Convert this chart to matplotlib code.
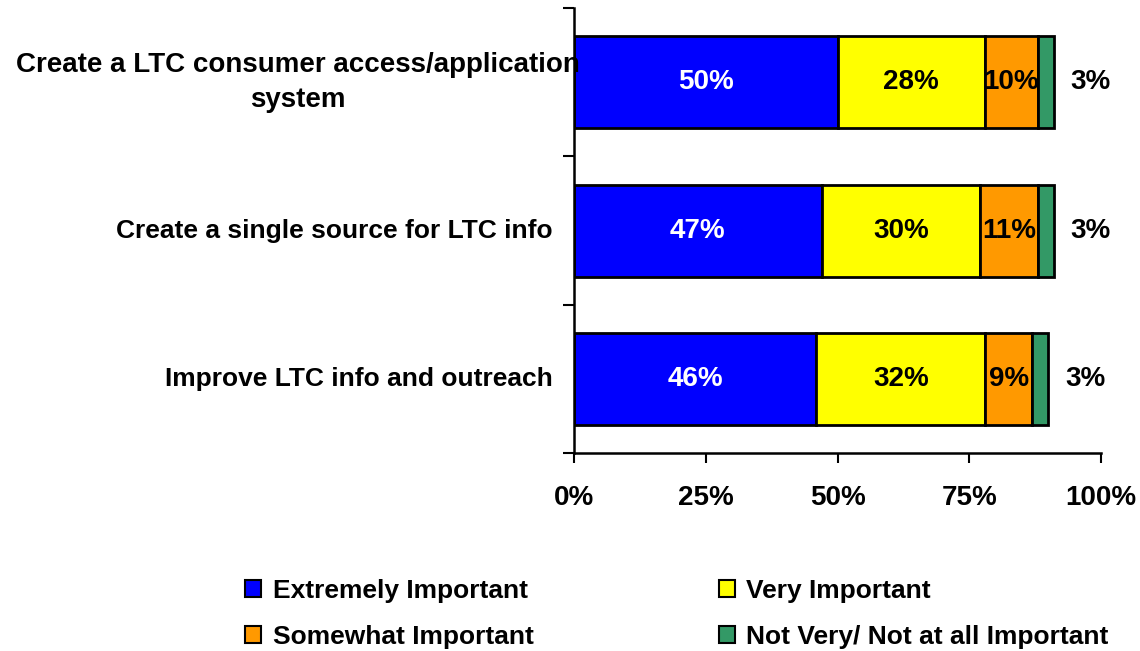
import numpy as np
import matplotlib.pyplot as plt
from matplotlib.patches import Patch
import matplotlib.transforms as mtransforms

plt.rcParams['font.family'] = ['Liberation Sans', 'DejaVu Sans']
plt.rcParams['font.weight'] = 'bold'

#---------data------
categories = ['Create a LTC consumer access/application\nsystem',
              'Create a single source for LTC info',
              'Improve LTC info and outreach']
series = ['Extremely Important', 'Very Important',
          'Somewhat Important', 'Not Very/ Not at all Important']
extremely = [50, 47, 46]
very = [28, 30, 32]
somewhat = [10, 11, 9]
not_very = [3, 3, 3]
colors = ['#0000FF', '#FFFF00', '#FF9900', '#339966']
label_colors = ['white', 'black', 'black', 'black']
xticks = [0, 25, 50, 75, 100]

fig = plt.figure(figsize=(11.4, 6.51), dpi=100)
ax = fig.add_axes([0.5035, 0.3041, 0.4623, 0.6836])

ypos = np.arange(len(categories))[::-1]
left = np.zeros(len(categories))
values = [extremely, very, somewhat, not_very]
for k, vals in enumerate(values):
    vals = np.array(vals, dtype=float)
    ax.barh(ypos, vals, left=left, height=0.62, color=colors[k],
            edgecolor='black', linewidth=2, label=series[k])
    for i in range(len(categories)):
        if k < 3:
            ax.text(left[i] + vals[i] / 2, ypos[i], f'{int(vals[i])}%',
                    ha='center', va='center', fontsize=20, fontweight='bold',
                    color=label_colors[k])
        else:
            # small slice: label sits outside the bar
            ax.annotate(f'{int(vals[i])}%', (left[i] + vals[i], ypos[i]),
                        xytext=(37, 0), textcoords='offset pixels',
                        ha='center', va='center', fontsize=20, fontweight='bold')
    left += vals

ax.set_xlim(0, 100)
ax.set_ylim(-0.5, len(categories) - 0.5)
ax.set_xticks(xticks)
ax.set_xticklabels([f'{t}%' for t in xticks], fontsize=20, fontweight='bold')
ax.tick_params(axis='x', length=7, width=1.5, pad=16, direction='out')
ax.set_yticks(np.arange(-0.5, len(categories), 1.0))
ax.set_yticklabels([])
ax.tick_params(axis='y', length=8, width=1.5, direction='out')
for s in ['top', 'right']:
    ax.spines[s].set_visible(False)
for s in ['left', 'bottom']:
    ax.spines[s].set_linewidth(1.8)

# category labels (right aligned, top one overflows like the original)
ytrans = ax.get_yaxis_transform()
shift = [mtransforms.ScaledTranslation(27 / 100, 0, fig.dpi_scale_trans),
         mtransforms.ScaledTranslation(0, 0, fig.dpi_scale_trans),
         mtransforms.ScaledTranslation(0, 0, fig.dpi_scale_trans)]
fsizes = [20, 19, 19]
for i, cat in enumerate(categories):
    ax.text(-21 / 527, ypos[i], cat, transform=ytrans + shift[i],
            ha='right', va='center', multialignment='center',
            fontsize=fsizes[i], fontweight='bold', linespacing=1.45)

handles = [Patch(facecolor=colors[k], edgecolor='black', linewidth=1.5) for k in range(4)]
order = [0, 2, 1, 3]
fig.legend([handles[k] for k in order], [series[k] for k in order],
           loc='center', bbox_to_anchor=(0.594, 0.057), ncol=2, frameon=False,
           prop={'size': 19, 'weight': 'bold'}, handlelength=0.6, handleheight=0.6,
           handletextpad=0.45, columnspacing=7, labelspacing=0.85)

plt.savefig('out.png', dpi=100)
